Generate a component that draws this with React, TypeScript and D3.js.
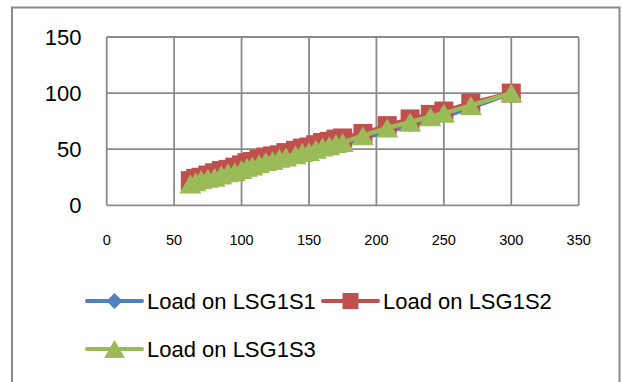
import * as d3 from 'd3';

// loads
const loadX = [62, 66, 70, 75, 80, 85, 90, 95, 100, 104, 108, 113, 118, 123, 128, 133, 140, 145, 150, 155, 160, 165, 170, 175, 190, 208, 225, 240, 250, 270, 300];
const lsg1s1 = [18, 20, 21, 23, 24, 25, 27, 28, 30, 31, 33, 34, 36, 37, 39, 40, 42, 44, 45, 47, 49, 51, 52, 54, 60, 66, 71, 76, 79, 87, 100];
const lsg1s2 = [22, 24, 25, 27, 29, 31, 32, 34, 36, 38, 39, 41, 43, 44, 45, 47, 49, 51, 52, 54, 56, 57, 59, 60, 64, 71, 77, 81, 84, 91, 100];
const lsg1s3 = [19, 21, 23, 24, 25, 27, 29, 30, 32, 34, 35, 37, 39, 40, 42, 43, 45, 47, 48, 50, 52, 53, 55, 56, 62, 69, 74, 79, 82, 89, 100];
const seriesNames = ['Load on LSG1S1', 'Load on LSG1S2', 'Load on LSG1S3'];
const xTicks = [0, 50, 100, 150, 200, 250, 300, 350];
const yTicks = [0, 50, 100, 150];

const colors = ['#4F81BD', '#C0504D', '#9BBB59'];
const shapes = ['diamond', 'square', 'triangle'];
const font = '"Liberation Sans", Arial, sans-serif';
const gridColor = '#8a8a8a';

function Marker({ shape, cx, cy, color, size }: { shape: string; cx: number; cy: number; color: string; size: number }) {
  const h = size / 2;
  if (shape === 'square') {
    return <rect x={cx - h} y={cy - h} width={size} height={size} fill={color} />;
  }
  if (shape === 'diamond') {
    return <path d={`M${cx},${cy - h}L${cx + h},${cy}L${cx},${cy + h}L${cx - h},${cy}Z`} fill={color} />;
  }
  const w = size * 0.58;
  return <path d={`M${cx},${cy - h}L${cx + w},${cy + h}L${cx - w},${cy + h}Z`} fill={color} />;
}

export default function App() {
  const width = 623;
  const height = 382;
  const margin = { left: 106.7, right: 578.7, top: 37, bottom: 205.3 };

  const x = d3.scaleLinear().domain([0, 350]).range([margin.left, margin.right]);
  const y = d3.scaleLinear().domain([0, 150]).range([margin.bottom, margin.top]);

  const series = [lsg1s1, lsg1s2, lsg1s3].map((vals) => vals.map((v, i) => [loadX[i], v] as [number, number]));
  const line = d3
    .line<[number, number]>()
    .x((d) => x(d[0]))
    .y((d) => y(d[1]));

  const markerSize = [13, 19, 19];

  const legend = [
    { i: 0, lx: 87, ly: 301 },
    { i: 1, lx: 323, ly: 301 },
    { i: 2, lx: 87, ly: 349 },
  ];

  return (
    <svg width={width} height={height} style={{ position: 'absolute', left: 0, top: 0, background: '#fff' }}>
      <rect x={12} y={7.5} width={607.5} height={390} fill="#fff" stroke={gridColor} strokeWidth={2} />

      {/* grid */}
      {xTicks.map((t) => (
        <line key={`gx${t}`} x1={x(t)} x2={x(t)} y1={y(150)} y2={y(0)} stroke={gridColor} strokeWidth={1.8} />
      ))}
      {yTicks.map((t) => (
        <line key={`gy${t}`} x1={x(0)} x2={x(350)} y1={y(t)} y2={y(t)} stroke={gridColor} strokeWidth={1.8} />
      ))}

      {/* y labels */}
      {yTicks.map((t) => (
        <text key={`ly${t}`} x={81.5} y={y(t) + 8} textAnchor="end" fontFamily={font} fontSize={22} fill="#000">
          {t}
        </text>
      ))}
      {/* x labels */}
      {xTicks.map((t) => (
        <text key={`lx${t}`} x={x(t)} y={244.5} textAnchor="middle" fontFamily={font} fontSize={14.5} fill="#000">
          {t}
        </text>
      ))}

      {/* series */}
      {series.map((pts, si) => (
        <g key={`s${si}`}>
          <path d={line(pts) || ''} fill="none" stroke={colors[si]} strokeWidth={4.5} strokeLinejoin="round" />
          {pts.map((p, pi) => (
            <Marker key={pi} shape={shapes[si]} cx={x(p[0])} cy={y(p[1])} color={colors[si]} size={markerSize[si]} />
          ))}
        </g>
      ))}

      {/* legend */}
      {legend.map(({ i, lx, ly }) => (
        <g key={`lg${i}`}>
          <line x1={lx} x2={lx + 55} y1={ly} y2={ly} stroke={colors[i]} strokeWidth={4} strokeLinecap="round" />
          <Marker shape={shapes[i]} cx={lx + 27.5} cy={ly} color={colors[i]} size={i === 2 ? 18 : 16} />
          <text x={lx + 60} y={ly + 8} fontFamily={font} fontSize={22} fill="#000">
            {seriesNames[i]}
          </text>
        </g>
      ))}
    </svg>
  );
}
